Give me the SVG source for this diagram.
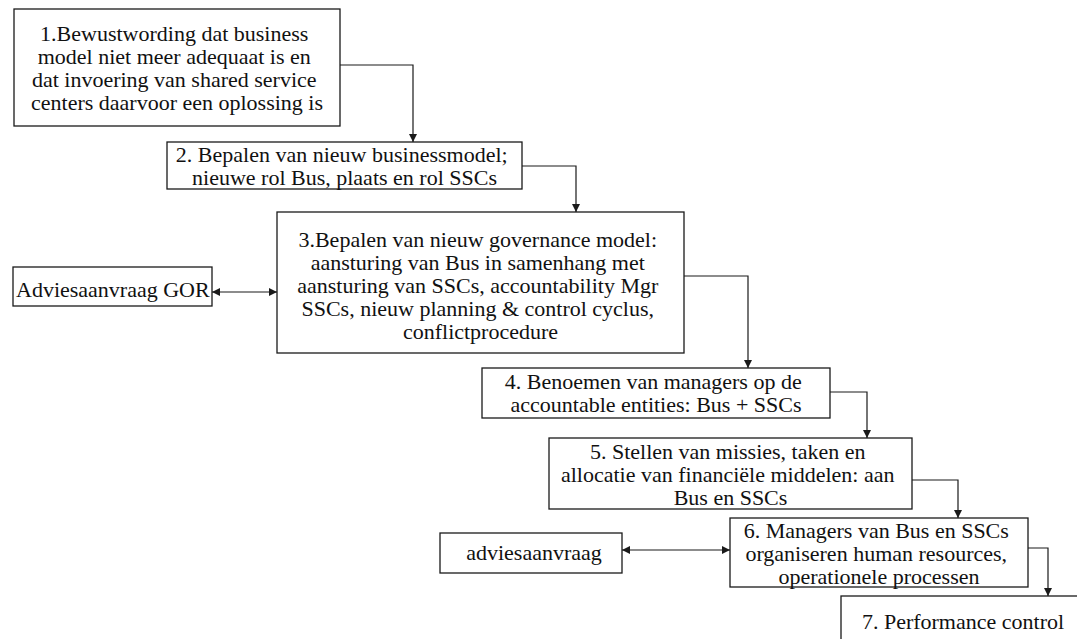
<svg xmlns="http://www.w3.org/2000/svg" width="1077" height="639" viewBox="0 0 1077 639">
  <style>
    .box { fill: #ffffff; stroke: #1a1a1a; stroke-width: 1.3; }
    .lbl { font-family: "Liberation Serif", "Times New Roman", serif; font-size: 22px; fill: #111111; text-anchor: middle; }
    .lbl-start { text-anchor: start; }
    .wire { fill: none; stroke: #1a1a1a; stroke-width: 1.2; }
  </style>
  <defs>
    <marker id="arrow-end" viewBox="0 0 10 10" refX="10" refY="5" markerWidth="8" markerHeight="8" markerUnits="userSpaceOnUse" orient="auto">
      <path d="M0,0 L10,5 L0,10 Z" fill="#1a1a1a"/>
    </marker>
    <marker id="arrow-start" viewBox="0 0 10 10" refX="0" refY="5" markerWidth="8" markerHeight="8" markerUnits="userSpaceOnUse" orient="auto">
      <path d="M10,0 L0,5 L10,10 Z" fill="#1a1a1a"/>
    </marker>
  </defs>

  <rect width="1077" height="639" fill="#ffffff"/>

  <!-- connectors -->
  <g id="connectors">
    <path class="wire" d="M340,65 H413 V142" marker-end="url(#arrow-end)"/>
    <path class="wire" d="M522,166 H576 V212" marker-end="url(#arrow-end)"/>
    <path class="wire" d="M684,276 H748 V368" marker-end="url(#arrow-end)"/>
    <path class="wire" d="M830,392 H867 V438" marker-end="url(#arrow-end)"/>
    <path class="wire" d="M912,480 H958 V518" marker-end="url(#arrow-end)"/>
    <path class="wire" d="M1028,548 H1048 V596" marker-end="url(#arrow-end)"/>
    <path class="wire" d="M212,292 H277" marker-start="url(#arrow-start)" marker-end="url(#arrow-end)"/>
    <path class="wire" d="M622,550 H730" marker-start="url(#arrow-start)" marker-end="url(#arrow-end)"/>
  </g>

  <!-- step 1 -->
  <g id="step1">
    <rect class="box" x="14" y="9" width="326" height="117"/>
    <text class="lbl" x="177" y="41">
      <tspan x="177">1.Bewustwording dat business</tspan>
      <tspan x="177" dy="23">model niet meer adequaat is en</tspan>
      <tspan x="177" dy="23">dat invoering van shared service</tspan>
      <tspan x="177" dy="23">centers daarvoor een oplossing is</tspan>
    </text>
  </g>

  <!-- step 2 -->
  <g id="step2">
    <rect class="box" x="167" y="142" width="355" height="47"/>
    <text class="lbl" x="344.5" y="162">
      <tspan x="344.5">2. Bepalen van nieuw businessmodel;</tspan>
      <tspan x="344.5" dy="23">nieuwe rol Bus, plaats en rol SSCs</tspan>
    </text>
  </g>

  <!-- step 3 -->
  <g id="step3">
    <rect class="box" x="277" y="212" width="407" height="141"/>
    <text class="lbl" x="480.5" y="247">
      <tspan x="480.5">3.Bepalen van nieuw governance model:</tspan>
      <tspan x="480.5" dy="23">aansturing van Bus in samenhang met</tspan>
      <tspan x="480.5" dy="23">aansturing van SSCs, accountability Mgr</tspan>
      <tspan x="480.5" dy="23">SSCs, nieuw planning &amp; control cyclus,</tspan>
      <tspan x="480.5" dy="23">conflictprocedure</tspan>
    </text>
  </g>

  <!-- advisory request to the works council -->
  <g id="gor">
    <rect class="box" x="13" y="267" width="199" height="39"/>
    <text class="lbl lbl-start" x="16" y="297">Adviesaanvraag GOR</text>
  </g>

  <!-- step 4 -->
  <g id="step4">
    <rect class="box" x="482" y="368" width="348" height="50"/>
    <text class="lbl" x="656" y="389">
      <tspan x="656">4. Benoemen van managers op de</tspan>
      <tspan x="656" dy="23">accountable entities: Bus + SSCs</tspan>
    </text>
  </g>

  <!-- step 5 -->
  <g id="step5">
    <rect class="box" x="549" y="438" width="363" height="71"/>
    <text class="lbl" x="730.5" y="459">
      <tspan x="730.5">5. Stellen van missies, taken en</tspan>
      <tspan x="730.5" dy="23">allocatie van financiële middelen: aan</tspan>
      <tspan x="730.5" dy="23">Bus en SSCs</tspan>
    </text>
  </g>

  <!-- step 6 -->
  <g id="step6">
    <rect class="box" x="730" y="518" width="298" height="69"/>
    <text class="lbl" x="879" y="538">
      <tspan x="879">6. Managers van Bus en SSCs</tspan>
      <tspan x="879" dy="23">organiseren human resources,</tspan>
      <tspan x="879" dy="23">operationele processen</tspan>
    </text>
  </g>

  <!-- advisory request -->
  <g id="advies">
    <rect class="box" x="440" y="533" width="182" height="40"/>
    <text class="lbl" x="534" y="560">adviesaanvraag</text>
  </g>

  <!-- step 7 -->
  <g id="step7">
    <rect class="box" x="841" y="596" width="244" height="50"/>
    <text class="lbl" x="963" y="629">7. Performance control</text>
  </g>
</svg>
